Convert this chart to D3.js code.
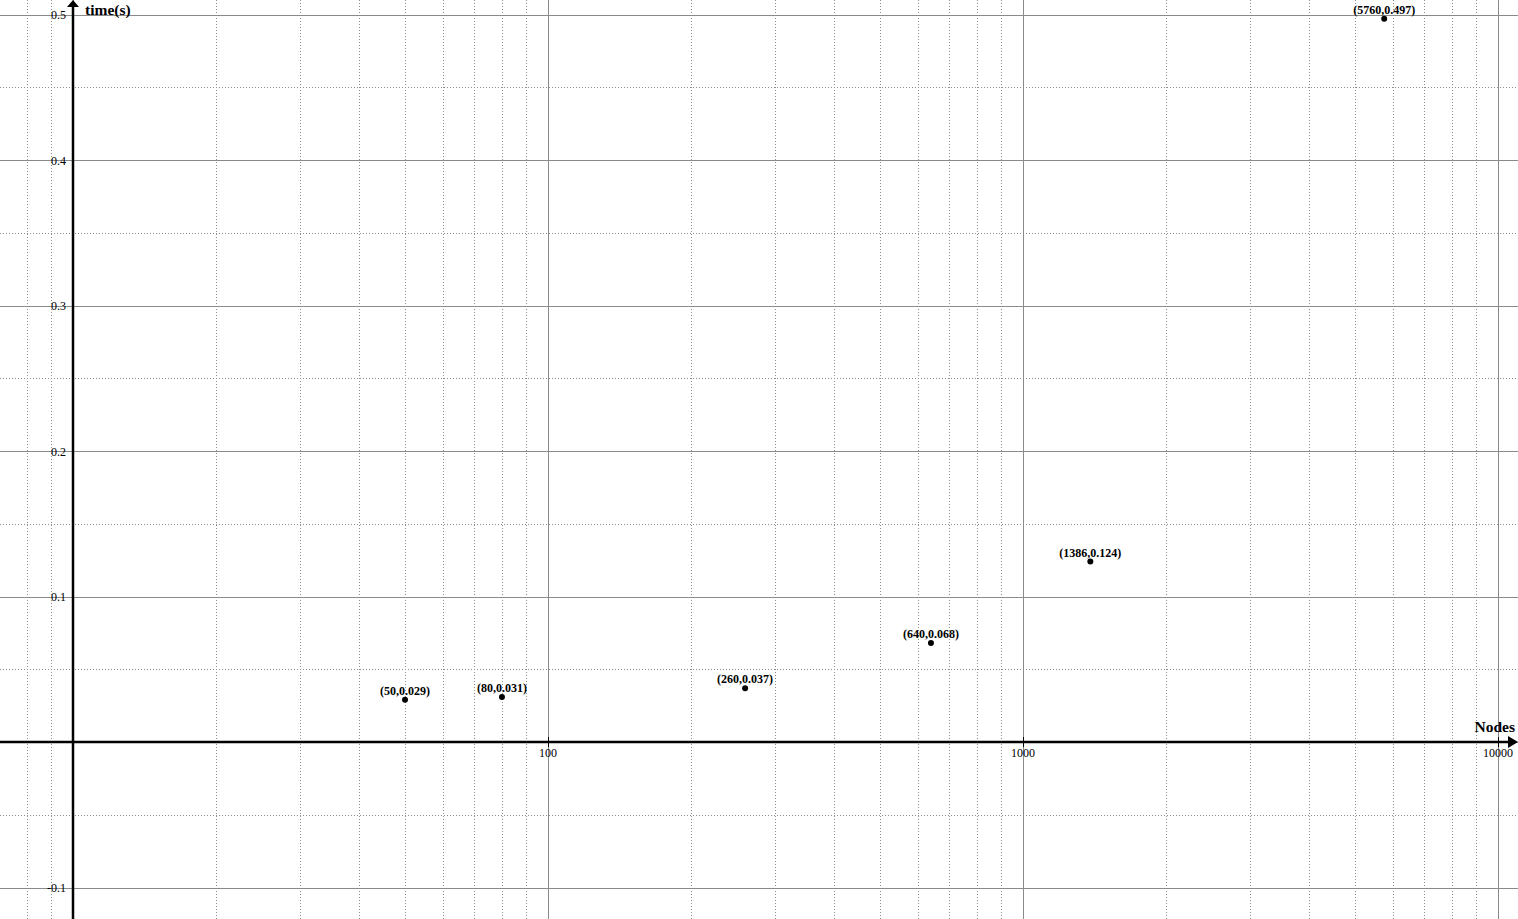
<!DOCTYPE html>
<html>
<head>
<meta charset="utf-8">
<script src="https://cdn.jsdelivr.net/npm/d3@7"></script>
<style>
html,body{margin:0;padding:0;background:#fff;overflow:hidden;}
svg{display:block;}
</style>
</head>
<body>
<svg id="chart" width="1518" height="919"></svg>
<script>
// Data
const nodes = [50, 80, 260, 640, 1386, 5760];
const times = [0.029, 0.031, 0.037, 0.068, 0.124, 0.497];
const xTickValues = [100, 1000, 10000];
const xTickLabels = ["100", "1000", "10000"];
const yTickValues = [-0.1, 0.1, 0.2, 0.3, 0.4, 0.5];
const yTickLabels = ["-0.1", "0.1", "0.2", "0.3", "0.4", "0.5"];
const xTitle = "Nodes";
const yTitle = "time(s)";

const W = 1518, H = 919;
const svg = d3.select("#chart");
const x = d3.scaleLog().domain([10, 10000]).range([73, 1498]);
const y = d3.scaleLinear().domain([0, 0.5]).range([742, 14.5]);
const font = "'Liberation Serif','Times New Roman',serif";
const px = v => Math.round(v) + 0.5;

// vertical grid
const xMin = x.invert(0), xMax = x.invert(W);
const minorX = [], majorX = [];
for (let e = 0; e <= 4; e++) {
  for (let m = 1; m <= 9; m++) {
    const v = m * Math.pow(10, e);
    if (v < xMin || v > xMax) continue;
    (m === 1 ? majorX : minorX).push(v);
  }
}
// horizontal grid
const yLo = y.invert(H), yHi = y.invert(0);
const minorY = [], majorY = [];
for (let k = Math.ceil(yLo / 0.05); k <= Math.floor(yHi / 0.05); k++) {
  const v = +(k * 0.05).toFixed(2);
  (k % 2 === 0 ? majorY : minorY).push(v);
}

const g = svg.append("g");
g.selectAll(".mx").data(minorX).enter().append("line")
  .attr("x1", d => px(x(d))).attr("x2", d => px(x(d)))
  .attr("y1", 0).attr("y2", H)
  .attr("stroke", "#8c8c8c").attr("stroke-width", 1).attr("stroke-dasharray", "1,2");
g.selectAll(".my").data(minorY).enter().append("line")
  .attr("y1", d => px(y(d))).attr("y2", d => px(y(d)))
  .attr("x1", 0).attr("x2", W)
  .attr("stroke", "#8c8c8c").attr("stroke-width", 1).attr("stroke-dasharray", "1,2");
g.selectAll(".Mx").data(majorX).enter().append("line")
  .attr("x1", d => px(x(d))).attr("x2", d => px(x(d)))
  .attr("y1", 0).attr("y2", H)
  .attr("stroke", "#8a8a8a").attr("stroke-width", 1);
g.selectAll(".My").data(majorY).enter().append("line")
  .attr("y1", d => px(y(d))).attr("y2", d => px(y(d)))
  .attr("x1", 0).attr("x2", W)
  .attr("stroke", "#8a8a8a").attr("stroke-width", 1);

// axes
const ax = svg.append("g");
const y0 = y(0), x0 = x(10);
ax.append("line").attr("x1", 0).attr("x2", W - 6).attr("y1", y0).attr("y2", y0)
  .attr("stroke", "#000").attr("stroke-width", 2.5);
ax.append("line").attr("x1", x0).attr("x2", x0).attr("y1", H).attr("y2", 5)
  .attr("stroke", "#000").attr("stroke-width", 2.5);
ax.append("path").attr("d", `M${W},${y0} L${W - 10},${y0 - 6} L${W - 10},${y0 + 6} Z`).attr("fill", "#000");
ax.append("path").attr("d", `M${x0},0 L${x0 - 6},7 L${x0 + 6},7 Z`).attr("fill", "#000");

// x ticks
ax.selectAll(".xt").data(xTickValues).enter().append("line")
  .attr("x1", d => px(x(d))).attr("x2", d => px(x(d)))
  .attr("y1", y0 - 5).attr("y2", y0 + 5).attr("stroke", "#000").attr("stroke-width", 1);
ax.selectAll(".xl").data(xTickValues).enter().append("text")
  .attr("x", d => x(d)).attr("y", y0 + 15)
  .attr("text-anchor", "middle").attr("font-family", font).attr("font-size", 12)
  .attr("fill", "#000")
  .text((d, i) => xTickLabels[i]);
// y labels
ax.selectAll(".yl").data(yTickValues).enter().append("text")
  .attr("x", x0 - 7).attr("y", d => y(d) + 4.5)
  .attr("text-anchor", "end").attr("font-family", font).attr("font-size", 12)
  .attr("fill", "#000")
  .text((d, i) => yTickLabels[i]);

// titles
ax.append("text").attr("x", x0 + 12).attr("y", 15)
  .attr("font-family", font).attr("font-size", 15.5).attr("font-weight", "bold")
  .text(yTitle);
ax.append("text").attr("x", W - 3).attr("y", y0 - 10)
  .attr("text-anchor", "end")
  .attr("font-family", font).attr("font-size", 15.5).attr("font-weight", "bold")
  .text(xTitle);

// points
const pts = nodes.map((n, i) => ({n, t: times[i]}));
const pg = svg.append("g");
pg.selectAll("circle").data(pts).enter().append("circle")
  .attr("cx", d => x(d.n)).attr("cy", d => y(d.t)).attr("r", 3).attr("fill", "#000");
pg.selectAll("text").data(pts).enter().append("text")
  .attr("x", d => x(d.n)).attr("y", d => y(d.t) - 5)
  .attr("text-anchor", "middle").attr("font-family", font).attr("font-size", 12)
  .attr("font-weight", "bold").attr("fill", "#000")
  .text(d => `(${d.n},${d.t})`);
</script>
</body>
</html>
